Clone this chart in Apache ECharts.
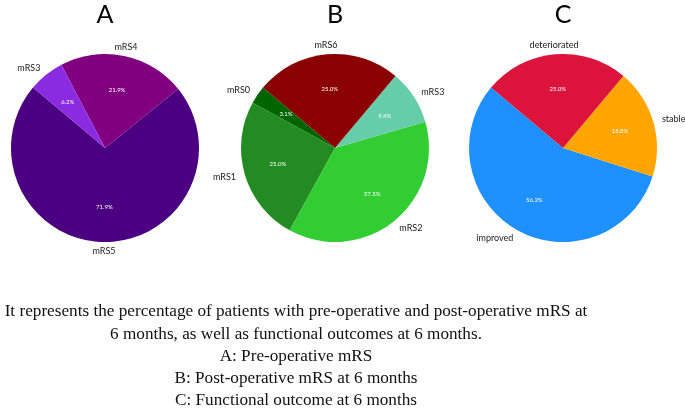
<!DOCTYPE html>
<html>
<head>
<meta charset="utf-8">
<script src="https://cdn.jsdelivr.net/npm/echarts@6/dist/echarts.min.js"></script>
<style>
  html, body { margin: 0; padding: 0; background: #fff; }
  #chart { width: 685px; height: 410px; }
</style>
</head>
<body>
<div id="chart"></div>
<script>
// ---- data ----
const panelTitles = ['A', 'B', 'C'];

const categoriesA = ['mRS5', 'mRS4', 'mRS3'];
const valuesA = [71.9, 21.9, 6.2];

const categoriesB = ['mRS0', 'mRS1', 'mRS2', 'mRS3', 'mRS6'];
const valuesB = [3.1, 25.0, 37.5, 9.4, 25.0];

const categoriesC = ['improved', 'stable', 'deteriorated'];
const valuesC = [56.2, 18.8, 25.0];

const captionLines = [
  'It represents the percentage of patients with pre-operative and post-operative mRS at',
  '6 months, as well as functional outcomes at 6 months.',
  'A: Pre-operative mRS',
  'B: Post-operative mRS at 6 months',
  'C: Functional outcome at 6 months'
];

// ---- styles ----
const colorsA = ['#4B0082', '#800080', '#8A2BE2'];
const colorsB = ['#006400', '#228B22', '#32CD32', '#66CDAA', '#8B0000'];
const colorsC = ['#1E90FF', '#FFA500', '#DC143C'];

const START = 140;
const R = 94;
const centers = [[105, 148], [335, 148], [563, 148]];
const labelFont = 'Lato';

function midAngle(vals, i) {
  const total = vals.reduce((a, b) => a + b, 0);
  let cum = 0;
  for (let k = 0; k < i; k++) cum += vals[k];
  return START + (cum + vals[i] / 2) / total * 360;
}

function buildPie(cats, vals, colors, center) {
  const data = cats.map((c, i) => ({ name: c, value: vals[i], itemStyle: { color: colors[i] } }));
  const main = {
    type: 'pie',
    center: center,
    radius: [0, R],
    startAngle: START,
    clockwise: false,
    avoidLabelOverlap: false,
    silent: true,
    itemStyle: { borderWidth: 0 },
    label: {
      show: true,
      position: 'outside',
      formatter: '{b}',
      fontFamily: labelFont,
      fontSize: 9,
      color: '#1a1a1a',
      distanceToLabelLine: 0
    },
    labelLine: { show: false, length: 9, length2: 0 },
    labelLayout: function (p) {
      const m = midAngle(vals, p.dataIndex) * Math.PI / 180;
      return Math.abs(Math.cos(m)) < 0.25 ? { align: 'center' } : {};
    },
    emphasis: { disabled: true },
    data: data
  };
  const pct = {
    type: 'pie',
    center: center,
    radius: [R * 0.2, R],
    startAngle: START,
    clockwise: false,
    silent: true,
    itemStyle: { color: 'rgba(0,0,0,0)', borderWidth: 0 },
    label: {
      show: true,
      position: 'inside',
      formatter: function (p) { return p.value.toFixed(1) + '%'; },
      fontFamily: labelFont,
      fontSize: 6,
      color: '#fff'
    },
    labelLine: { show: false },
    emphasis: { disabled: true },
    data: cats.map((c, i) => ({ name: c, value: vals[i] }))
  };
  return [main, pct];
}

const series = []
  .concat(buildPie(categoriesA, valuesA, colorsA, centers[0]))
  .concat(buildPie(categoriesB, valuesB, colorsB, centers[1]))
  .concat(buildPie(categoriesC, valuesC, colorsC, centers[2]));

const graphic = [];
panelTitles.forEach((t, i) => {
  graphic.push({
    type: 'text', x: centers[i][0], y: 15,
    style: { text: t, font: '25px Lato', fill: '#000', align: 'center', verticalAlign: 'middle' }
  });
});
const captionY = [311, 334, 356, 378, 400];
captionLines.forEach((line, i) => {
  graphic.push({
    type: 'text', x: 296, y: captionY[i],
    style: { text: line, font: '17.2px "Liberation Serif"', fill: '#111', align: 'center', verticalAlign: 'middle' }
  });
});

const chart = echarts.init(document.getElementById('chart'), null, { renderer: 'canvas' });
chart.setOption({
  animation: false,
  backgroundColor: '#fff',
  series: series,
  graphic: graphic
});
</script>
</body>
</html>
